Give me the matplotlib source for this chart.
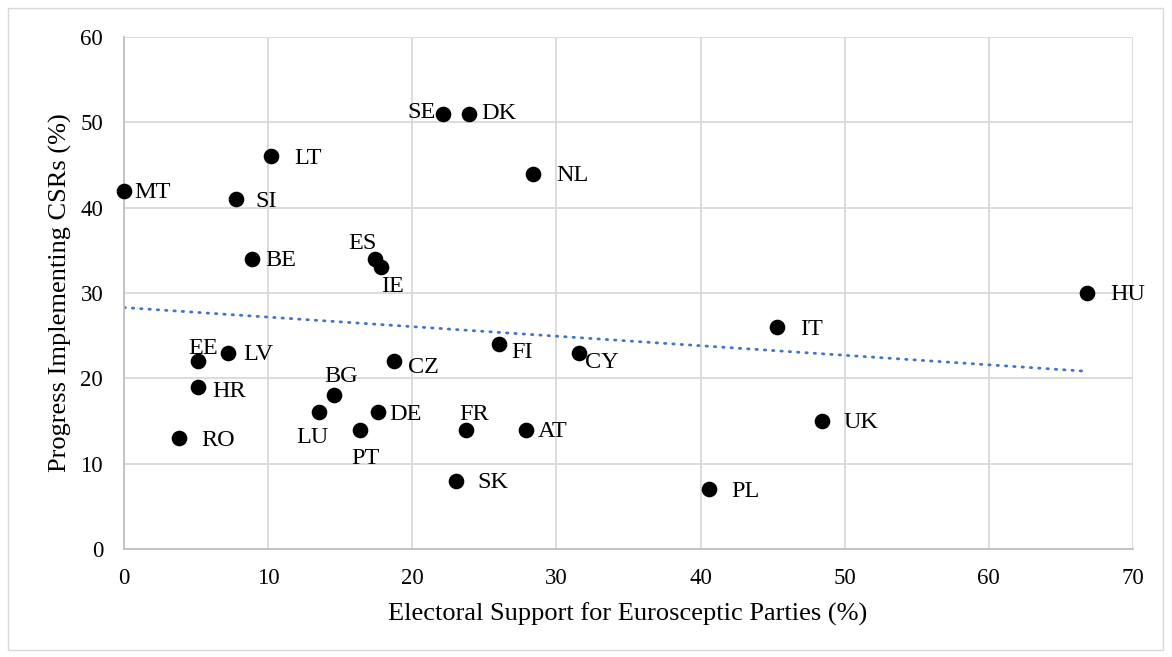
import numpy as np
import matplotlib
matplotlib.use("Agg")
import matplotlib.pyplot as plt
from matplotlib.patches import Rectangle

plt.rcParams['font.family'] = ['Liberation Serif', 'DejaVu Serif']

countries = ["MT", "SI", "LT", "BE", "SE", "DK", "NL", "ES", "IE", "HU", "IT", "FI", "CY",
             "CZ", "EE", "LV", "HR", "BG", "LU", "DE", "PT", "FR", "AT", "RO", "SK", "PL", "UK"]
support = [0.0, 7.8, 10.2, 8.9, 22.1, 23.9, 28.4, 17.4, 17.8, 66.8, 45.3, 26.0, 31.6,
           18.7, 5.1, 7.2, 5.1, 14.6, 13.5, 17.6, 16.4, 23.7, 27.9, 3.8, 23.0, 40.6, 48.4]
progress = [42, 41, 46, 34, 51, 51, 44, 34, 33, 30, 26, 24, 23,
            22, 22, 23, 19, 18, 16, 16, 14, 14, 14, 13, 8, 7, 15]

# label placement (pixel offsets, alignment)
label_pos = {
    "MT": (10, 0, "left"), "SI": (19, 0, "left"), "LT": (23, 0, "left"), "BE": (13, 0, "left"),
    "SE": (-7, 3, "right"), "DK": (13, 2, "left"), "NL": (23, 0, "left"),
    "ES": (-12, 17, "center"), "IE": (12, -17, "center"), "HU": (23, 0, "left"),
    "IT": (23, 0, "left"), "FI": (13, -6, "left"), "CY": (6, -8, "left"),
    "CZ": (14, -4, "left"), "EE": (6, 15, "center"), "LV": (15, 0, "left"),
    "HR": (15, -3, "left"), "BG": (7, 21, "center"), "LU": (-6, -23, "center"),
    "DE": (12, 0, "left"), "PT": (5, -27, "center"), "FR": (8, 17, "center"),
    "AT": (12, 0, "left"), "RO": (23, 0, "left"), "SK": (22, 0, "left"),
    "PL": (22, 0, "left"), "UK": (22, 0, "left"),
}

W, H = 1172, 657
fig = plt.figure(figsize=(W / 100, H / 100), dpi=100)
fig.patches.append(Rectangle((8 / W, 7 / H), (W - 17) / W, (H - 15) / H,
                             transform=fig.transFigure, fill=False,
                             edgecolor="#D9D9D9", linewidth=1.0))

ax = fig.add_axes([124 / W, (H - 549) / H, 1009 / W, 512 / H])
ax.set_xlim(0, 70)
ax.set_ylim(0, 60)
ax.set_xticks(np.arange(0, 71, 10))
ax.set_yticks(np.arange(0, 61, 10))
ax.grid(True, color="#D9D9D9", linewidth=1.3)
ax.set_axisbelow(True)
for s in ["top", "right"]:
    ax.spines[s].set_visible(False)
for s in ["left", "bottom"]:
    ax.spines[s].set_color("#BFBFBF")
    ax.spines[s].set_linewidth(1.3)
ax.tick_params(length=0, labelsize=16.5, colors="black")
ax.tick_params(axis="y", pad=15)
ax.tick_params(axis="x", pad=14)

# trendline
xs = np.array(support)
ys = np.array(progress)
m, b = np.polyfit(xs, ys, 1)
xt = np.array([0, xs.max()])
ax.plot(xt, m * xt + b, color="#4472C4", linewidth=2.0, linestyle=(0, (0.5, 2.5)),
        dash_capstyle="round", zorder=2)

ax.scatter(support, progress, s=105, color="black", zorder=3, clip_on=False)

for c, x, y in zip(countries, support, progress):
    dx, dy, ha = label_pos[c]
    ax.annotate(c, (x, y), xytext=(dx, dy - 2), textcoords="offset pixels",
                ha=ha, va="center", fontsize=17.5, zorder=4)

fig.text(628 / W, 1 - 614 / H, "Electoral Support for Eurosceptic Parties (%)",
         fontsize=19, ha="center", va="center")
fig.text(60 / W, 1 - 293 / H, "Progress Implementing CSRs (%)",
         fontsize=19, ha="center", va="center", rotation=90)

fig.savefig("out.png", dpi=100)
